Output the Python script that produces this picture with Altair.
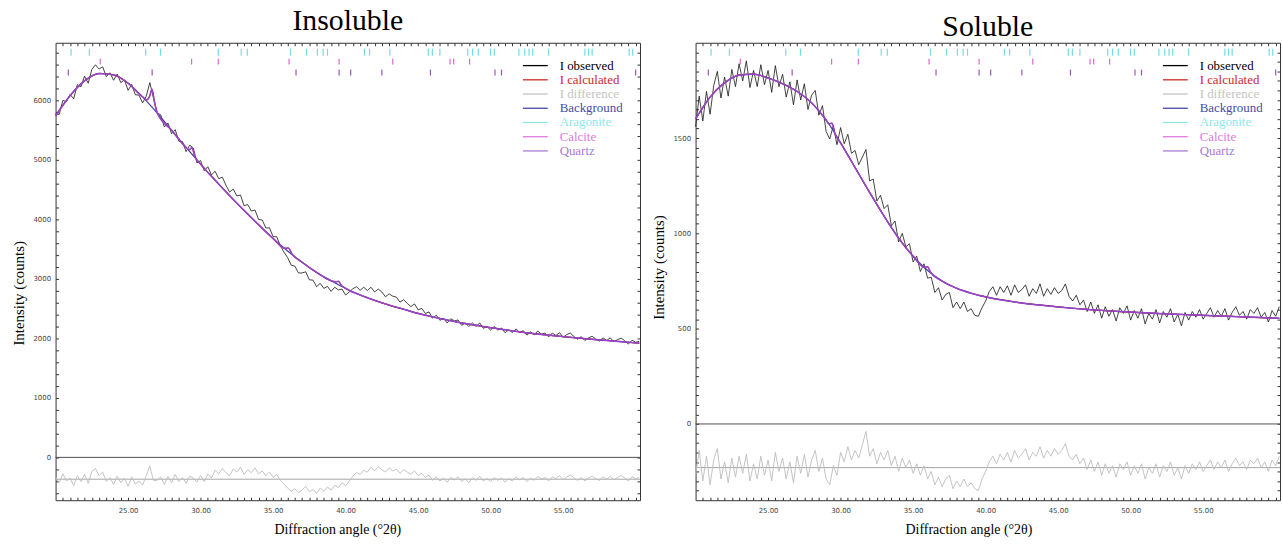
import altair as alt
import pandas as pd

START = 20.0
STEP = 0.25

# ---------------- Insoluble ----------------
ins_obs = [5780, 5765, 6000, 5980, 6100, 6030, 6265, 6230, 6410, 6290,
           6520, 6600, 6530, 6565, 6400, 6465, 6340, 6445, 6300, 6345,
           6170, 6270, 6095, 6090, 5960, 6070, 6300, 6040, 5790, 5760,
           5555, 5620, 5440, 5510, 5315, 5310, 5140, 5250, 5200, 4950,
           4990, 4820, 4885, 4750, 4810, 4685, 4710, 4575, 4460, 4510,
           4395, 4410, 4230, 4250, 4140, 4160, 4000, 3990, 3855, 3860,
           3710, 3710, 3555, 3450, 3360, 3230, 3215, 3100, 3100, 3120,
           2985, 2980, 2870, 2925, 2840, 2875, 2790, 2860, 2815, 2830,
           2730, 2780, 2835, 2870, 2810, 2860, 2805, 2860, 2780, 2830,
           2780, 2700, 2750, 2710, 2695, 2610, 2650, 2590, 2535, 2580,
           2480, 2505, 2420, 2445, 2340, 2390, 2305, 2340, 2260, 2330,
           2295, 2310, 2220, 2260, 2200, 2260, 2200, 2260, 2170, 2200,
           2140, 2200, 2140, 2175, 2095, 2145, 2100, 2160, 2100, 2130,
           2055, 2110, 2060, 2125, 2070, 2090, 2025, 2090, 2050, 2095,
           2020, 2065, 2090, 2030, 1985, 2030, 1965, 2010, 2035, 1990,
           1955, 2010, 1965, 2010, 1945, 1980, 2005, 1960, 1905, 1970,
           1935, 1950]
ins_diff = [40, -60, 90, -30, 20, -110, 60, -40, 80, -70,
            130, 180, 60, 120, -40, 30, -90, 50, -60, 20,
            -120, 40, -80, -30, -100, 60, 220, -20, -20, 40,
            -90, 50, -60, 80, -40, 30, -70, 50, 20, -50,
            60, -40, 90, 20, 150, 90, 180, 110, 60, 170,
            120, 200, 80, 160, 110, 190, 90, 140, 60, 120,
            30, 80, -20, -80, -150, -200, -160, -230, -180, -120,
            -210, -170, -240, -150, -200, -130, -180, -100, -140, -60,
            -110, -30, 50, 110, 80, 150, 120, 200, 140, 210,
            160, 120, 190, 140, 170, 100, 160, 120, 80, 140,
            60, 100, 30, 70, -20, 40, -30, 20, -50, 30,
            -10, 40, -40, 10, -60, 30, -20, 50, -30, 10,
            -40, 30, -20, 20, -50, 10, -30, 40, -10, 30,
            -40, 20, -20, 50, 0, 30, -30, 40, 10, 60,
            -10, 40, 70, 20, -20, 30, -30, 20, 50, 10,
            -20, 40, 0, 50, -10, 30, 60, 20, -30, 40,
            10, 30]
ins_bg_angle = [20, 21, 22, 23, 24, 25, 26, 27, 28, 29, 30, 31, 32, 33, 34, 35,
                36, 37, 38, 39, 40, 41, 42, 43, 44, 45, 46, 47, 48, 49, 50, 51,
                52, 53, 54, 55, 56, 57, 58, 59, 60, 60.25]
ins_bg = [5740, 6080, 6330, 6450, 6430, 6290, 6060, 5790, 5500, 5210, 4930,
          4660, 4400, 4150, 3910, 3680, 3470, 3280, 3110, 2970, 2840, 2730,
          2640, 2560, 2490, 2420, 2360, 2310, 2260, 2220, 2180, 2145, 2110,
          2080, 2055, 2030, 2005, 1985, 1965, 1945, 1925, 1920]
ins_calc_angle = [20, 21, 22, 23, 24, 25, 26, 26.3, 26.5, 26.65, 26.8, 27, 28,
                  29, 29.2, 29.4, 29.6, 30, 31, 32, 33, 34, 35, 35.8, 36.05,
                  36.3, 37, 38, 39, 39.3, 39.5, 39.7, 40, 41, 42, 43, 44, 45,
                  46, 47, 48, 49, 50, 51, 52, 53, 54, 55, 56, 57, 58, 59, 60,
                  60.25]
ins_calc = [5740, 6080, 6330, 6455, 6430, 6290, 6060, 6010, 6080, 6190, 6000,
            5800, 5500, 5210, 5170, 5205, 5060, 4930, 4660, 4400, 4150, 3910,
            3680, 3515, 3520, 3420, 3280, 3110, 2970, 2950, 2960, 2895, 2840,
            2730, 2640, 2560, 2490, 2420, 2360, 2310, 2260, 2220, 2180, 2145,
            2110, 2080, 2055, 2030, 2005, 1985, 1965, 1945, 1925, 1920]

# ---------------- Soluble ----------------
sol_obs = [1560, 1720, 1590, 1745, 1625, 1775, 1850, 1710, 1820, 1720,
           1860, 1770, 1890, 1800, 1905, 1765, 1855, 1770, 1885, 1780,
           1855, 1740, 1880, 1770, 1835, 1715, 1795, 1675, 1805, 1700,
           1785, 1650, 1725, 1750, 1620, 1670, 1535, 1495, 1565, 1465,
           1555, 1470, 1520, 1420, 1435, 1360, 1400, 1440, 1275, 1285,
           1170, 1200, 1130, 1150, 1040, 1065, 955, 1000, 930, 945,
           850, 880, 800, 840, 765, 770, 690, 715, 650, 680,
           690, 610, 640, 605, 640, 590, 605, 570, 565, 610,
           645, 695, 720, 675, 720, 690, 725, 675, 730, 690,
           705, 730, 670, 710, 685, 735, 670, 710, 680, 715,
           685, 700, 735, 670, 645, 675, 625, 650, 590, 640,
           580, 625, 555, 615, 565, 600, 540, 610, 580, 620,
           545, 595, 555, 605, 525, 580, 550, 600, 530, 590,
           560, 605, 535, 575, 515, 585, 545, 590, 560, 600,
           550, 580, 610, 560, 595, 565, 605, 545, 585, 615,
           570, 590, 550, 600, 580, 610, 560, 585, 535, 595,
           565, 615]
sol_diff = [-40, 90, -70, 60, -90, 40, 100, -60, 30, -80,
            50, -50, 60, -30, 70, -70, 20, -60, 60, -40,
            40, -70, 80, -20, 50, -60, 30, -80, 60, -30,
            70, -50, 40, 90, -20, 50, -60, -90, 10, -40,
            80, 30, 110, 40, 90, 50, 120, 190, 60, 100,
            20, 80, 40, 90, 10, 60, -20, 50, 0, 40,
            -30, 20, -40, 10, -60, -20, -90, -50, -100, -60,
            -40, -110, -70, -100, -60, -100, -80, -110, -120, -60,
            -20, 30, 60, 20, 70, 40, 80, 30, 90, 50,
            70, 100, 40, 80, 60, 110, 50, 90, 60, 100,
            70, 90, 125, 60, 40, 70, 20, 50, -10, 40,
            -20, 30, -40, 20, -30, 10, -50, 20, -10, 30,
            -40, 10, -30, 20, -60, 0, -30, 20, -50, 10,
            -20, 30, -40, 0, -60, 10, -30, 20, -10, 30,
            -20, 10, 40, -10, 30, 0, 40, -20, 20, 50,
            10, 30, -10, 40, 20, 50, 0, 30, -20, 40,
            10, 60]
sol_bg_angle = ins_bg_angle
sol_bg = [1600, 1715, 1790, 1830, 1835, 1815, 1785, 1745, 1685, 1595, 1475,
          1345, 1215, 1090, 975, 880, 805, 750, 712, 686, 667, 652, 640, 630,
          622, 614, 607, 601, 596, 591, 587, 583, 579, 576, 573, 570, 567, 564,
          561, 558, 555, 554]
sol_calc_angle = [20, 21, 22, 23, 24, 25, 26, 27, 28, 29, 29.2, 29.4, 29.6, 30,
                  31, 32, 33, 34, 35, 35.8, 36.0, 36.2, 37, 38, 39, 40, 41, 42,
                  43, 44, 45, 46, 47, 48, 49, 50, 51, 52, 53, 54, 55, 56, 57,
                  58, 59, 60, 60.25]
sol_calc = [1600, 1715, 1790, 1830, 1835, 1815, 1785, 1745, 1685, 1595, 1575,
            1578, 1525, 1475, 1345, 1215, 1090, 975, 880, 822, 825, 796, 750,
            712, 686, 667, 652, 640, 630, 622, 614, 607, 601, 596, 591, 587,
            583, 579, 576, 573, 570, 567, 564, 561, 558, 555, 554]

# ---------------- Phase reflection markers ----------------
aragonite_pos = [21.07, 22.33, 26.22, 27.23, 31.22, 32.8, 33.22, 36.2, 37.3,
                 38.05, 38.45, 38.75, 41.3, 41.65, 43.05, 45.7, 45.98, 46.5,
                 48.42, 48.75, 49.15, 50.0, 50.25, 51.95, 52.35, 52.65, 52.9,
                 54.0, 56.5, 56.75, 57.0, 59.55, 59.8]
calcite_pos = [23.08, 29.38, 31.22, 36.1, 39.55, 43.25, 47.2, 47.45, 48.55]
quartz_pos = [20.88, 26.66, 36.58, 39.55, 40.35, 42.5, 45.85, 50.3, 50.75, 60.0]

legend_labels = ["I observed", "I calculated", "I difference", "Background",
                 "Aragonite", "Calcite", "Quartz"]
legend_colors = ["#000000", "#cc2a2a", "#c4c4c4", "#4848a4", "#8ee6ee",
                 "#e07ae0", "#a67ad8"]

X_DOMAIN = [20, 60.3]
x_ticks = [20 + 0.5 * i for i in range(1, 81)]
SERIF = "Liberation Serif"
NOAX = None


def panel(title, title_offset, obs, diff, bg_angle, bg, calc_angle, calc,
          y_domain, y_ticks, y_major, diff_offset, xtitle_x, ytitle_y):
    n = len(obs)
    angles = [START + STEP * i for i in range(n)]
    d_obs = pd.DataFrame({"angle": angles, "obs": obs, "diff": diff})
    d_bg = pd.DataFrame({"angle": bg_angle, "bg": bg})
    d_calc = pd.DataFrame({"angle": calc_angle, "calc": calc})
    xs = alt.Scale(domain=X_DOMAIN, nice=False, zero=False)
    ys = alt.Scale(domain=y_domain, nice=False, zero=False)

    def xn(f):
        return alt.X(f, scale=xs, axis=NOAX)

    def yn(f):
        return alt.Y(f, scale=ys, axis=NOAX)

    zero = alt.Chart(pd.DataFrame({"v": [0]})).mark_rule(
        color="#505050", strokeWidth=1).encode(y=yn("v:Q"))
    base = alt.Chart(pd.DataFrame({"v": [diff_offset]})).mark_rule(
        color="#a6a6a6", strokeWidth=1).encode(y=yn("v:Q"))
    dline = alt.Chart(d_obs).transform_calculate(
        shifted="datum.diff + " + str(diff_offset)
    ).mark_line(color="#bdbdbd", strokeWidth=0.9).encode(
        x=xn("angle:Q"), y=yn("shifted:Q"))

    oline = alt.Chart(d_obs).mark_line(color="#141414", strokeWidth=0.8).encode(
        x=alt.X("angle:Q", scale=xs, axis=alt.Axis(
            orient="bottom", title="Diffraction angle (°2θ)", values=x_ticks,
            labelExpr="datum.value % 5 === 0 && datum.value > 20 && datum.value < 60 ? format(datum.value, '.2f') : ''",
            tickSize=3, offset=-3, domain=False, grid=False,
            labelPadding=6, titlePadding=10, titleX=xtitle_x)),
        y=alt.Y("obs:Q", scale=ys, axis=alt.Axis(
            orient="left", title="Intensity (counts)", values=y_ticks,
            labelExpr="datum.value % " + str(y_major) + " === 0 && datum.value >= 0 ? format(datum.value, 'd') : ''",
            tickSize=3, offset=-3, domain=False, grid=False,
            labelPadding=5, titlePadding=7, titleFontSize=15,
            titleY=ytitle_y)),
    )

    bline = alt.Chart(d_bg).mark_line(
        color="#3c3ca2", strokeWidth=1.2, interpolate="monotone").encode(
        x=alt.X("angle:Q", scale=xs, axis=alt.Axis(
            orient="top", values=x_ticks, labels=False, title=None,
            tickSize=3, offset=-3, domain=False, grid=False)),
        y=alt.Y("bg:Q", scale=ys, axis=alt.Axis(
            orient="right", values=y_ticks, labels=False, title=None,
            tickSize=3, offset=-3, domain=False, grid=False)),
    )
    cline = alt.Chart(d_calc).mark_line(
        color="#cc2a2a", strokeWidth=1.2, interpolate="monotone").encode(
        x=xn("angle:Q"), y=yn("calc:Q"))
    qline = alt.Chart(d_calc).mark_line(
        color="#9446cc", strokeWidth=1.5, interpolate="monotone").encode(
        x=xn("angle:Q"), y=yn("calc:Q"))

    def marks(pos, color, y0, y1):
        return alt.Chart(pd.DataFrame({"angle": pos})).mark_rule(
            color=color, strokeWidth=1.2).encode(
            x=xn("angle:Q"), y=alt.value(y0), y2=alt.value(y1))

    m1 = marks(aragonite_pos, "#72dce2", 6, 13)
    m2 = marks(calcite_pos, "#d868d0", 16, 22)
    m3 = marks(quartz_pos, "#9656b8", 27, 33)

    d_leg = pd.DataFrame({"label": legend_labels, "color": legend_colors,
                          "rank": list(range(len(legend_labels)))})
    yoff = alt.YOffset("rank:Q", scale=alt.Scale(domain=[0, 6], range=[0, 86]))
    leg_lines = alt.Chart(d_leg).mark_rule(strokeWidth=1.3).encode(
        x=alt.value(471), x2=alt.value(496), y=alt.value(23), yOffset=yoff,
        color=alt.Color("color:N", scale=None))
    leg_text = alt.Chart(d_leg).mark_text(
        align="left", baseline="middle", font=SERIF, fontSize=13).encode(
        x=alt.value(508), y=alt.value(23), yOffset=yoff, text="label:N",
        color=alt.Color("color:N", scale=None))

    return alt.layer(
        zero, base, dline, oline, bline, cline, qline, m1, m2, m3,
        leg_lines, leg_text
    ).resolve_axis(x="independent", y="independent").properties(
        width=589, height=461,
        title=alt.TitleParams(title, font=SERIF, fontSize=30,
                              fontWeight="normal", color="black",
                              offset=title_offset, anchor="middle"))


left = panel("Insoluble", 6, ins_obs, ins_diff, ins_bg_angle, ins_bg,
             ins_calc_angle, ins_calc, [-720, 6970],
             list(range(-600, 7000, 200)), 1000, -367, 284, 252)
right = panel("Soluble", 0, sol_obs, sol_diff, sol_bg_angle, sol_bg,
              sol_calc_angle, sol_calc, [-400, 2000],
              list(range(-350, 2000, 50)), 500, -229, 275, 226)

chart = alt.hconcat(left, right, spacing=7).properties(
    padding={"left": 10, "top": 4, "right": 0, "bottom": 0}
).configure_view(stroke="#333333", strokeWidth=1).configure_axis(
    labelFont="DejaVu Sans", labelFontSize=7, labelColor="#444444",
    tickColor="#333333", titleFont=SERIF, titleFontSize=14,
    titleFontWeight="normal", titleColor="black"
)

chart.save("out.html", embed_options={"renderer": "svg", "actions": False})
